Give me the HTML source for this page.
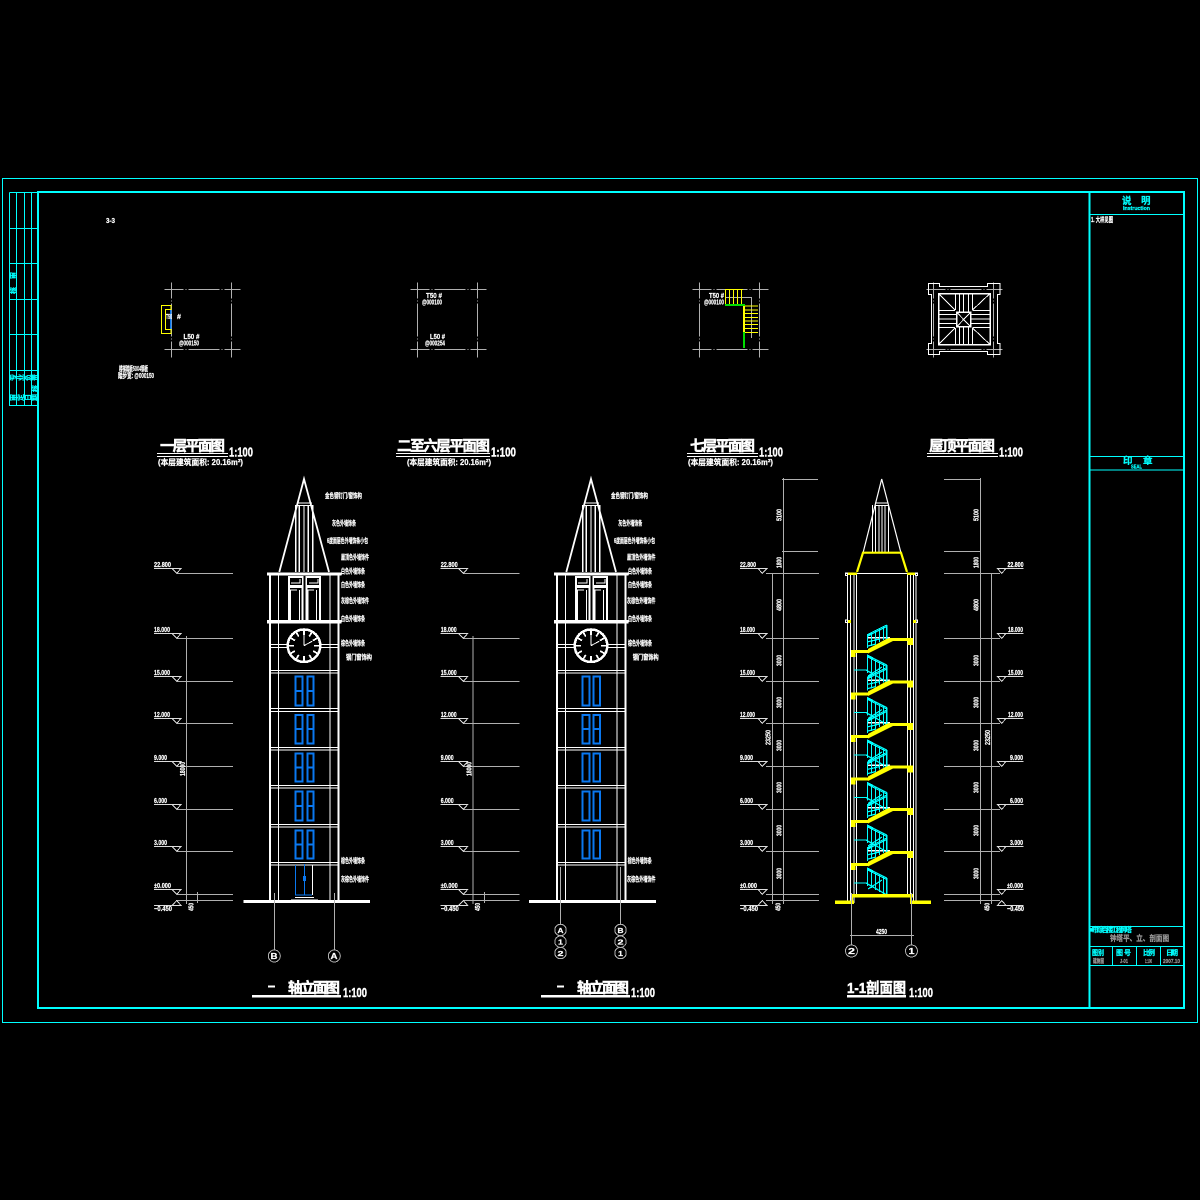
<!DOCTYPE html>
<html><head><meta charset="utf-8"><style>
html,body{margin:0;padding:0;background:#000}
svg{display:block}
svg *{shape-rendering:crispEdges}
text{font-family:"Liberation Sans","Noto Sans CJK SC",sans-serif;font-weight:bold;fill:#fff;stroke:#fff;stroke-width:.22px}
.n{font-size:7px}
.t{font-size:14.5px;stroke-width:.45px}
.r{font-size:12.5px;stroke-width:.4px}
.s{font-size:8px}
.c{fill:#0ff;stroke:#0ff}
.g{fill:#999;stroke:#999}
</style></head><body>
<svg xmlns="http://www.w3.org/2000/svg" width="1200" height="1200" viewBox="0 0 1200 1200">
<rect width="1200" height="1200" fill="#000"/>
<defs>
<g id="gh"><path d="M0 0H76" stroke="#b0b0b0" stroke-dasharray="19 2 1 2 31 2 1 2 16"/></g>
<g id="gv"><path d="M0 0V75" stroke="#b0b0b0" stroke-dasharray="16 2 1 2 33 2 1 2 21"/></g>
<g id="plan"><use href="#gh" x="-7" y="0"/><use href="#gh" x="-7" y="60"/><use href="#gv" x="0" y="-7"/><use href="#gv" x="60" y="-7"/></g>
<g id="tower" fill="none" stroke="#fff">
<path d="M279.3 572 304 479 329 572" stroke-width="1.8" style="shape-rendering:auto"/>
<path d="M297 503H312M297 505.5H312M295.7 505V572M299.3 505V572M304 505V572M308.3 505V572M312.7 505V572" stroke-width="1.2"/>
<rect x="267" y="572.5" width="74.5" height="3" fill="#fff" stroke="none"/>
<rect x="267" y="620" width="74.5" height="3.7" fill="#fff" stroke="none"/>
<path d="M270 575V901M338.3 575V901" stroke-width="2"/>
<path d="M278.3 575V901M330 575V901" stroke-width="1.1"/>
<path d="M270 644.5H288M270 647.5H288M320 644.5H338M320 647.5H338M270 670.5H338M270 673H338M270 708.7H338M270 711.5H338M270 747.3H338M270 750H338M270 785.3H338M270 788H338M270 824.5H338M270 827H338M270 862.3H338M270 865H338"/>
<rect x="289" y="577" width="13.7" height="8.7" stroke-width="1.6"/><rect x="306.3" y="577" width="13.7" height="8.7" stroke-width="1.6"/>
<path d="M291 583H300V579M309 583H318V579"/>
<path d="M289 620V587H302.7V620M306.3 620V587H320V620" stroke-width="2"/>
<path d="M290.5 620V590H297M299.5 620V590M308 620V590H314M316.5 620V590" stroke-width="1"/>
<circle cx="304" cy="645.7" r="16.7" fill="#000" stroke-width="1.6"/>
<circle cx="304" cy="645.7" r="15.5" stroke-width="1"/>
<path d="M304 630V635M304 656V661M288.5 645.7H294M314 645.7H319.5M296.2 632.2 298.7 636.5M311.8 632.2 309.3 636.5M296.2 659.2 298.7 654.9M311.8 659.2 309.3 654.9M290.5 637.9 295 640.5M317.5 637.9 313 640.5M290.5 653.5 295 650.9M317.5 653.5 313 650.9" stroke-width="1.7"/>
<path d="M304 645.7V630.5M304 645.7 312.5 641"/>
</g>
<g id="lvl">
<g stroke="#b0b0b0" fill="none">
<path d="M176.7 573.5H233M176.7 638.5H233M176.7 681.5H233M176.7 723.5H233M176.7 766.5H233M176.7 809.5H233M176.7 851.5H233M176.7 894.5H233M176.7 900.5H233"/>
<path d="M186.3 636V904M197.6 892V903"/>
</g>
<g stroke="#ddd" fill="none">
<path d="M154 568.5H181L176.7 573.3 172 568.5M154 633.5H181L176.7 638.3 172 633.5M154 676.5H181L176.7 681.3 172 676.5M154 718.5H181L176.7 723.3 172 718.5M154 761.5H181L176.7 766.3 172 761.5M154 804.5H181L176.7 809.3 172 804.5M154 846.5H181L176.7 851.3 172 846.5M154 889.5H181L176.7 894.3 172 889.5M154 905.5H181L176.7 900.5 172 905.5"/>
</g>
<g class="n">
<text x="154" y="567" class="n" textLength="17" lengthAdjust="spacingAndGlyphs">22.800</text>
<text x="154" y="632" class="n" textLength="16" lengthAdjust="spacingAndGlyphs">18.000</text>
<text x="154" y="675" class="n" textLength="16" lengthAdjust="spacingAndGlyphs">15.000</text>
<text x="154" y="717" class="n" textLength="16" lengthAdjust="spacingAndGlyphs">12.000</text>
<text x="154" y="760" class="n" textLength="13" lengthAdjust="spacingAndGlyphs">9.000</text>
<text x="154" y="803" class="n" textLength="13" lengthAdjust="spacingAndGlyphs">6.000</text>
<text x="154" y="845" class="n" textLength="13" lengthAdjust="spacingAndGlyphs">3.000</text>
<text x="154" y="888" class="n" textLength="17" lengthAdjust="spacingAndGlyphs">±0.000</text>
<text x="154" y="911" class="n" textLength="18" lengthAdjust="spacingAndGlyphs">−0.450</text>
<text transform="translate(185,776) rotate(-90)" class="n" textLength="14" lengthAdjust="spacingAndGlyphs">18000</text>
<text transform="translate(193.5,911) rotate(-90)" class="n" textLength="8" lengthAdjust="spacingAndGlyphs">450</text>
</g>
</g>
<g id="fl">
<path d="M867 -1.5H890" stroke="#fff" stroke-width="1.5"/>
<rect x="889" y="-1" width="24" height="3" fill="#ff0"/>
<rect x="907.5" y="-1" width="5.5" height="7" fill="#ff0"/>
<path d="M868 14.5V10L888 -1 893 2Z" fill="#ff0" style="shape-rendering:auto"/>
<rect x="851" y="11" width="17" height="3" fill="#ff0"/>
<rect x="851" y="11" width="4.5" height="7" fill="#ff0"/>
<g stroke="#0ff" fill="none" stroke-width="1.2" style="shape-rendering:auto">
<path d="M867 -4 886.7 -14M867 -2.5 886.7 -12.5M867.5 -4V9M871.5 -6V7M875.5 -8V5M879.5 -10V3M883.5 -12V1M886.7 -14V0"/>
<path d="M867 16 886.7 26M867 17.5 886.7 27.5M867.5 16V34M871.5 18V36M875.5 20V38M879.5 22V40M883.5 24V42M886.7 26V43M854 31H866L887 43"/>
<path d="M867 3 880 0M868 7 876 5M868 37 882 28"/>
</g>
</g>
</defs>

<!-- frames -->
<g fill="none" stroke="#0ff">
<rect x="2.5" y="178.5" width="1195" height="844"/>
<rect x="38" y="192" width="1146" height="816" stroke-width="2.2"/>
<path d="M9.5 192.5H38M9.5 192.5V405.5H38M16.5 192.5V405.5M24.5 192.5V405.5M31.5 192.5V405.5M9.5 228.5H38M9.5 263.5H38M9.5 299.5H38M9.5 334.5H38M9.5 370.5H38"/>
<path d="M1089.5 192V1008" stroke-width="1.6"/>
<path d="M1089 214.5H1184M1089 456.5H1184M1089 470H1184M1089 926.5H1184M1089 946.5H1184M1089 965.5H1184M1112.5 946.5V965.5M1136.5 946.5V965.5M1160.5 946.5V965.5"/>
</g>
<g class="c">
<text class="n c" transform="translate(15.5,279) rotate(-90)" textLength="7" lengthAdjust="spacingAndGlyphs">审</text>
<text class="n c" transform="translate(15.5,294) rotate(-90)" textLength="7" lengthAdjust="spacingAndGlyphs">核</text>
<text class="n c" transform="translate(15.5,381) rotate(-90)">专</text><text class="n c" transform="translate(23,381) rotate(-90)">业</text><text class="n c" transform="translate(30.5,381) rotate(-90)">负</text><text class="n c" transform="translate(37.5,381) rotate(-90)">责</text>
<text class="n c" transform="translate(37.5,392) rotate(-90)">核</text>
<text class="n c" transform="translate(15.5,401) rotate(-90)">审</text><text class="n c" transform="translate(23,401) rotate(-90)">定</text><text class="n c" transform="translate(30.5,401) rotate(-90)">日</text><text class="n c" transform="translate(37.5,401) rotate(-90)">期</text>
</g>
<text x="1122" y="204" style="font-size:9.5px" class="c">说</text><text x="1141" y="204" style="font-size:9.5px" class="c">明</text>
<text x="1123" y="210" style="font-size:5px" class="c" textLength="27" lengthAdjust="spacingAndGlyphs">Instruction</text>
<text x="1091" y="222" class="n" textLength="22" lengthAdjust="spacingAndGlyphs">1. 大样见图</text>
<text x="1123" y="464" style="font-size:9.5px" class="c">印</text><text x="1143" y="464" style="font-size:9.5px" class="c">章</text>
<text x="1131" y="468.5" style="font-size:5px" class="c" textLength="11" lengthAdjust="spacingAndGlyphs">SEAL</text>
<text x="1090" y="932" class="n c" textLength="42" lengthAdjust="spacing">■ 市综合楼工程 钟塔</text>
<text x="1110" y="941" class="s g" textLength="59" lengthAdjust="spacingAndGlyphs">钟塔平、立、剖面图</text>
<text x="1092" y="955" class="n c" textLength="12" lengthAdjust="spacingAndGlyphs">图别</text><text x="1093" y="963" style="font-size:5.5px" class="g" textLength="11" lengthAdjust="spacingAndGlyphs">建施图</text>
<text x="1116" y="955" class="n c" textLength="15" lengthAdjust="spacing">图号</text><text x="1120" y="963" style="font-size:5.5px" class="g" textLength="8" lengthAdjust="spacingAndGlyphs">J-01</text>
<text x="1143" y="955" class="n c" textLength="12" lengthAdjust="spacing">比例</text><text x="1145" y="963" style="font-size:5.5px" class="g" textLength="7" lengthAdjust="spacingAndGlyphs">1:100</text>
<text x="1166" y="955" class="n c" textLength="12" lengthAdjust="spacing">日期</text><text x="1163" y="963" style="font-size:5.5px" class="g" textLength="17" lengthAdjust="spacingAndGlyphs">2007.10</text>
<text x="106" y="223" class="n" textLength="9" lengthAdjust="spacingAndGlyphs">3-3</text>

<!-- plans -->
<use href="#plan" x="171.3" y="289.5"/>
<use href="#plan" x="417.3" y="289.5"/>
<use href="#plan" x="699.3" y="289.5"/>
<use href="#plan" x="933.3" y="289.5"/>
<rect x="161.5" y="305.5" width="9.5" height="28" fill="none" stroke="#ff0"/>
<rect x="165.5" y="309.5" width="5.5" height="20" fill="none" stroke="#ff0"/>
<path d="M170.5 310V329" stroke="#0a78f0" stroke-width="1.5"/>
<g class="n">
<text x="166" y="319" class="n" textLength="6" lengthAdjust="spacingAndGlyphs">T50</text><text x="177" y="319" class="n">#</text>
<text x="183.5" y="339" class="n" textLength="16" lengthAdjust="spacingAndGlyphs">L50 #</text>
<text x="179" y="345.5" class="n" textLength="20" lengthAdjust="spacingAndGlyphs">@000150</text>
<text x="119" y="371" class="n" textLength="29" lengthAdjust="spacingAndGlyphs">楼梯踏板50X4钢板</text>
<text x="118" y="378" class="n" textLength="36" lengthAdjust="spacingAndGlyphs">踏步宽: @000150</text>
<text x="426" y="298" class="n" textLength="16" lengthAdjust="spacingAndGlyphs">T50 #</text>
<text x="422" y="304.5" class="n" textLength="20" lengthAdjust="spacingAndGlyphs">@000100</text>
<text x="430" y="339" class="n" textLength="15" lengthAdjust="spacingAndGlyphs">L50 #</text>
<text x="425" y="345.5" class="n" textLength="20" lengthAdjust="spacingAndGlyphs">@000254</text>
<text x="709" y="298" class="n" textLength="15" lengthAdjust="spacingAndGlyphs">T50 #</text>
<text x="704" y="304.5" class="n" textLength="20" lengthAdjust="spacingAndGlyphs">@000100</text>
</g>
<g fill="none">
<path d="M725 297.5H751.5V338" stroke="#b0b0b0"/>
<path d="M725.5 289.5V304M729.5 289.5V304M733.5 289.5V304M737.5 289.5V304M741.5 289.5V304M725 289.5H743" stroke="#ff0"/>
<path d="M744 306H758M744 310H758M744 313.7H758M744 317.3H758M744 321H758M744 324.7H758M744 328.3H758M744 332.3H758" stroke="#ff0"/>
<path d="M725 304.8H745M744 304V348" stroke="#0d0" stroke-width="2"/>
<path d="M744 306V332" stroke="#ff0" stroke-width="2"/>
</g>
<g fill="none" stroke="#fff">
<path d="M928.5 283.5H939.5V286.5H987.5V283.5H1000V294.5H997.5V343.5H1000V354.5H987.5V351.5H939.5V354.5H928.5V343.5H931.5V294.5H928.5Z" stroke-width="1.2"/>
<rect x="938.5" y="293.5" width="51.5" height="51" stroke-width="1.5"/>
<rect x="956.7" y="312.3" width="14" height="14.4" stroke-width="1.2"/>
<path d="M956.7 312.3 970.7 326.7M970.7 312.3 956.7 326.7"/>
<path d="M938.5 293.5 955 310M990 293.5 972.5 310M938.5 344.5 955 328M990 344.5 972.5 328"/>
<path d="M955.5 293.5V310M959.5 293.5V312M963.5 293.5V312M968.5 293.5V312M972.5 293.5V310M955.5 328V344.5M959.5 327V344.5M963.5 327V344.5M968.5 327V344.5M972.5 328V344.5"/>
<path d="M938.5 310.7H955M938.5 314.7H956.7M938.5 319H956.7M938.5 323.3H956.7M938.5 327.3H955M972.5 310.7H990M970.7 314.7H990M970.7 319H990M970.7 323.3H990M972.5 327.3H990"/>
</g>

<!-- plan titles -->
<g>
<text x="160" y="451" class="t" textLength="65" lengthAdjust="spacing">一层平面图</text>
<text x="229" y="456.5" class="r" textLength="24" lengthAdjust="spacingAndGlyphs">1:100</text>
<text x="158" y="465" class="s" textLength="85" lengthAdjust="spacingAndGlyphs">(本层建筑面积: 20.16m²)</text>
<text x="397" y="451" class="t" textLength="93" lengthAdjust="spacing">二至六层平面图</text>
<text x="491" y="456.5" class="r" textLength="25" lengthAdjust="spacingAndGlyphs">1:100</text>
<text x="407" y="465" class="s" textLength="84" lengthAdjust="spacingAndGlyphs">(本层建筑面积: 20.16m²)</text>
<text x="690" y="451" class="t" textLength="65" lengthAdjust="spacing">七层平面图</text>
<text x="759" y="456.5" class="r" textLength="24" lengthAdjust="spacingAndGlyphs">1:100</text>
<text x="688" y="465" class="s" textLength="85" lengthAdjust="spacingAndGlyphs">(本层建筑面积: 20.16m²)</text>
<text x="929" y="451" class="t" textLength="66" lengthAdjust="spacing">屋顶平面图</text>
<text x="999" y="456.5" class="r" textLength="24" lengthAdjust="spacingAndGlyphs">1:100</text>
<g fill="#fff">
<rect x="157" y="453" width="71" height="1"/><rect x="157" y="456" width="71" height="1"/>
<rect x="396" y="453" width="94" height="1"/><rect x="396" y="456" width="94" height="1"/>
<rect x="687" y="453" width="71" height="1"/><rect x="687" y="456" width="71" height="1"/>
<rect x="927" y="453" width="71" height="1"/><rect x="927" y="456" width="71" height="1"/>
</g>
</g>

<!-- elevation 1 -->
<use href="#lvl"/>
<use href="#tower"/>
<rect x="243.3" y="900" width="126.7" height="3" fill="#fff"/>
<g fill="none" stroke="#0a78f0" stroke-width="2">
<path d="M295.3 676.3H302.7V705.7H295.3ZM295.3 691H302.7M307.3 676.3H313.7V705.7H307.3ZM307.3 691H313.7"/>
<path d="M295.3 715H302.7V743.7H295.3ZM295.3 729H302.7M307.3 715H313.7V743.7H307.3ZM307.3 729H313.7"/>
<path d="M295.3 753.3H302.7V781.7H295.3ZM295.3 767.5H302.7M307.3 753.3H313.7V781.7H307.3ZM307.3 767.5H313.7"/>
<path d="M295.3 791.3H302.7V820.7H295.3ZM295.3 806H302.7M307.3 791.3H313.7V820.7H307.3ZM307.3 806H313.7"/>
<path d="M295.3 830.3H302.7V858.7H295.3ZM295.3 844.5H302.7M307.3 830.3H313.7V858.7H307.3ZM307.3 844.5H313.7"/>
</g>
<path d="M295.5 865V895H312" stroke="#0a78f0" fill="none"/>
<path d="M304.5 864V895" stroke="#0a78f0" fill="none"/>
<rect x="303" y="876" width="3" height="5" fill="#0a78f0"/>
<path d="M312.5 865V895" stroke="#fff"/>
<path d="M295 897.5H314M291 900H318" stroke="#fff" stroke-width="1.3" fill="none"/>
<g fill="none" stroke="#b0b0b0">
<path d="M274.3 893V950M334.3 893V950"/>
<circle cx="274.3" cy="956" r="6"/><circle cx="334.3" cy="956" r="6"/>
</g>
<text x="270.5" y="959" class="s" textLength="7" lengthAdjust="spacingAndGlyphs">B</text>
<text x="330.5" y="959" class="s" textLength="7" lengthAdjust="spacingAndGlyphs">A</text>
<rect x="252" y="995" width="89" height="2.6" fill="#fff"/>
<rect x="268" y="985.5" width="7" height="2" fill="#fff"/>
<text x="288" y="993" class="t" textLength="52" lengthAdjust="spacing">轴立面图</text>
<text x="343" y="997" class="r" textLength="24" lengthAdjust="spacingAndGlyphs">1:100</text>
<g class="n">
<text x="325" y="498" class="n" textLength="37" lengthAdjust="spacingAndGlyphs">金色钢钉门/窗饰构</text>
<text x="332" y="525.5" class="n" textLength="24" lengthAdjust="spacingAndGlyphs">灰色外墙饰条</text>
<text x="327" y="543" class="n" textLength="41" lengthAdjust="spacingAndGlyphs">6度面层色外墙饰条小包</text>
<text x="341" y="559.5" class="n" textLength="28" lengthAdjust="spacingAndGlyphs">屋顶色外墙饰件</text>
<text x="341" y="573.5" class="n" textLength="24" lengthAdjust="spacingAndGlyphs">白色外墙饰条</text>
<text x="341" y="587" class="n" textLength="24" lengthAdjust="spacingAndGlyphs">白色外墙饰条</text>
<text x="341" y="603" class="n" textLength="28" lengthAdjust="spacingAndGlyphs">灰棕色外墙饰件</text>
<text x="341" y="621" class="n" textLength="24" lengthAdjust="spacingAndGlyphs">白色外墙饰条</text>
<text x="341" y="645.5" class="n" textLength="24" lengthAdjust="spacingAndGlyphs">棕色外墙饰条</text>
<text x="346" y="659.5" class="n" textLength="26" lengthAdjust="spacingAndGlyphs">钢门窗饰构</text>
<text x="341" y="863" class="n" textLength="24" lengthAdjust="spacingAndGlyphs">棕色外墙饰条</text>
<text x="341" y="881.5" class="n" textLength="28" lengthAdjust="spacingAndGlyphs">灰棕色外墙饰件</text>
</g>

<!-- elevation 2 -->
<use href="#lvl" x="286.7"/>
<use href="#tower" x="287"/>
<rect x="529" y="900" width="127" height="3" fill="#fff"/>
<g fill="none" stroke="#0a78f0" stroke-width="2">
<path d="M582.3 676.3H589.3V705.7H582.3ZM593.3 676.3H600V705.7H593.3Z"/>
<path d="M582.3 715H589.3V743.7H582.3ZM582.3 729H589.3M593.3 715H600V743.7H593.3ZM593.3 729H600"/>
<path d="M582.3 753.3H589.3V781.7H582.3ZM593.3 753.3H600V781.7H593.3Z"/>
<path d="M582.3 791.3H589.3V820.7H582.3ZM593.3 791.3H600V820.7H593.3Z"/>
<path d="M582.3 830.3H589.3V858.7H582.3ZM593.3 830.3H600V858.7H593.3Z"/>
</g>
<g fill="none" stroke="#b0b0b0">
<path d="M560.3 867V924M620.3 867V924"/>
<circle cx="560.5" cy="930" r="5.7"/><circle cx="560.5" cy="941.7" r="5.7"/><circle cx="560.5" cy="953" r="5.7"/>
<circle cx="620.5" cy="930" r="5.7"/><circle cx="620.5" cy="941.7" r="5.7"/><circle cx="620.5" cy="953" r="5.7"/>
</g>
<text x="557.5" y="933" class="n" textLength="6" lengthAdjust="spacingAndGlyphs">A</text>
<text x="558" y="944.7" class="n" textLength="5" lengthAdjust="spacingAndGlyphs">1</text>
<text x="557.5" y="956" class="n" textLength="6" lengthAdjust="spacingAndGlyphs">2</text>
<text x="617.5" y="933" class="n" textLength="6" lengthAdjust="spacingAndGlyphs">B</text>
<text x="617.5" y="944.7" class="n" textLength="6" lengthAdjust="spacingAndGlyphs">2</text>
<text x="618" y="956" class="n" textLength="5" lengthAdjust="spacingAndGlyphs">1</text>
<rect x="541" y="995" width="89" height="2.6" fill="#fff"/>
<rect x="557" y="985.5" width="7" height="2" fill="#fff"/>
<text x="577" y="993" class="t" textLength="52" lengthAdjust="spacing">轴立面图</text>
<text x="631" y="997" class="r" textLength="24" lengthAdjust="spacingAndGlyphs">1:100</text>
<g class="n">
<text x="611" y="498" class="n" textLength="37" lengthAdjust="spacingAndGlyphs">金色钢钉门/窗饰构</text>
<text x="618.3" y="525.5" class="n" textLength="24" lengthAdjust="spacingAndGlyphs">灰色外墙饰条</text>
<text x="614" y="543" class="n" textLength="41" lengthAdjust="spacingAndGlyphs">6度面层色外墙饰条小包</text>
<text x="627" y="559.5" class="n" textLength="28.5" lengthAdjust="spacingAndGlyphs">屋顶色外墙饰件</text>
<text x="628" y="573.5" class="n" textLength="24" lengthAdjust="spacingAndGlyphs">白色外墙饰条</text>
<text x="628" y="587" class="n" textLength="24" lengthAdjust="spacingAndGlyphs">白色外墙饰条</text>
<text x="627" y="603" class="n" textLength="28.5" lengthAdjust="spacingAndGlyphs">灰棕色外墙饰件</text>
<text x="628" y="621" class="n" textLength="24" lengthAdjust="spacingAndGlyphs">白色外墙饰条</text>
<text x="628" y="645.5" class="n" textLength="24" lengthAdjust="spacingAndGlyphs">棕色外墙饰条</text>
<text x="632.7" y="659.5" class="n" textLength="26" lengthAdjust="spacingAndGlyphs">钢门窗饰构</text>
<text x="627.7" y="863" class="n" textLength="24" lengthAdjust="spacingAndGlyphs">棕色外墙饰条</text>
<text x="627" y="881.5" class="n" textLength="28.5" lengthAdjust="spacingAndGlyphs">灰棕色外墙饰件</text>
</g>

<!-- section -->
<g fill="none" stroke="#fff">
<path d="M863 553 881.7 479 901 553" stroke-width="1.2" style="shape-rendering:auto"/>
<path d="M875 503H888.5M875 505.5H888.5"/>
<path d="M872.5 505V552M875.5 505V552M879 505V552M882 505V552M885 505V552M888.5 505V552" stroke-width="1.2"/>
<path d="M845 573.5H917.7"/>
<path d="M847.5 575V903M850.5 575V903M854 575V903M856.5 575V895M907.5 575V895M910.5 575V903M913.5 575V903M916 575V903"/>
<rect x="845.5" y="573" width="2" height="2.5"/><rect x="915.5" y="573" width="2" height="2.5"/>
<rect x="845.5" y="620" width="2" height="2.5"/><rect x="915.5" y="620" width="2" height="2.5"/>
</g>
<path d="M857 572 863 552.7H901L907 572" fill="none" stroke="#ff0" stroke-width="2.2" style="shape-rendering:auto"/>
<rect x="848" y="572.5" width="9" height="2.5" fill="#ff0"/><rect x="907" y="572.5" width="8" height="2.5" fill="#ff0"/>
<rect x="848" y="620" width="3" height="3" fill="#ff0"/><rect x="913" y="620" width="3" height="3" fill="#ff0"/>
<use href="#fl" y="639"/><use href="#fl" y="681.5"/><use href="#fl" y="724"/><use href="#fl" y="766.5"/><use href="#fl" y="809"/><use href="#fl" y="852"/>
<rect x="851.5" y="894" width="61.5" height="3.5" fill="#ff0"/>
<rect x="835" y="900.5" width="19" height="3.5" fill="#ff0"/>
<rect x="910" y="900.5" width="21" height="3.5" fill="#ff0"/>
<rect x="851" y="894" width="2" height="10" fill="#ff0"/><rect x="910" y="894" width="2" height="10" fill="#ff0"/>
<g fill="none" stroke="#b0b0b0">
<path d="M766 573.5H819M766 638.5H819M766 681.5H819M766 723.5H819M766 766.5H819M766 809.5H819M766 851.5H819M766 894.5H819M766 900.5H819"/>
<path d="M782 479.5H818M782 551.5H818M772.5 573V904M783.5 478V904"/>
<path d="M944 479.5H981M944 551.5H981M944 573.5H1000M944 638.5H1000M944 681.5H1000M944 723.5H1000M944 766.5H1000M944 809.5H1000M944 851.5H1000M944 894.5H1000M944 900.5H1000"/>
<path d="M980.5 478V904M991.5 573V904"/>
<path d="M851.5 893V945M911.5 893V945M850 935.5H914"/>
<circle cx="851.5" cy="951" r="6"/><circle cx="911.5" cy="951" r="6"/>
</g>
<g fill="none" stroke="#ddd">
<path d="M740 568.5H767L762.3 573.3 758 568.5M740 633.5H767L762.3 638.3 758 633.5M740 676.5H767L762.3 681.3 758 676.5M740 718.5H767L762.3 723.3 758 718.5M740 761.5H767L762.3 766.3 758 761.5M740 804.5H767L762.3 809.3 758 804.5M740 846.5H767L762.3 851.3 758 846.5M740 889.5H767L762.3 894.3 758 889.5M740 905.5H767L762.3 900.5 758 905.5"/>
<path d="M1023.3 568.5H997.5L1001.7 573.3 1006 568.5M1023.3 633.5H997.5L1001.7 638.3 1006 633.5M1023.3 676.5H997.5L1001.7 681.3 1006 676.5M1023.3 718.5H997.5L1001.7 723.3 1006 718.5M1023.3 761.5H997.5L1001.7 766.3 1006 761.5M1023.3 804.5H997.5L1001.7 809.3 1006 804.5M1023.3 846.5H997.5L1001.7 851.3 1006 846.5M1023.3 889.5H997.5L1001.7 894.3 1006 889.5M1023.3 905.5H997.5L1001.7 900.5 1006 905.5"/>
</g>
<g class="n">
<text x="740" y="567" class="n" textLength="16" lengthAdjust="spacingAndGlyphs">22.800</text>
<text x="740" y="632" class="n" textLength="15" lengthAdjust="spacingAndGlyphs">18.000</text>
<text x="740" y="675" class="n" textLength="15" lengthAdjust="spacingAndGlyphs">15.000</text>
<text x="740" y="717" class="n" textLength="15" lengthAdjust="spacingAndGlyphs">12.000</text>
<text x="740" y="760" class="n" textLength="13" lengthAdjust="spacingAndGlyphs">9.000</text>
<text x="740" y="803" class="n" textLength="13" lengthAdjust="spacingAndGlyphs">6.000</text>
<text x="740" y="845" class="n" textLength="13" lengthAdjust="spacingAndGlyphs">3.000</text>
<text x="740" y="888" class="n" textLength="17" lengthAdjust="spacingAndGlyphs">±0.000</text>
<text x="740" y="911" class="n" textLength="18" lengthAdjust="spacingAndGlyphs">−0.450</text>
<text x="1007.5" y="567" class="n" textLength="16" lengthAdjust="spacingAndGlyphs">22.800</text>
<text x="1008" y="632" class="n" textLength="15" lengthAdjust="spacingAndGlyphs">18.000</text>
<text x="1008" y="675" class="n" textLength="15" lengthAdjust="spacingAndGlyphs">15.000</text>
<text x="1008" y="717" class="n" textLength="15" lengthAdjust="spacingAndGlyphs">12.000</text>
<text x="1010" y="760" class="n" textLength="13" lengthAdjust="spacingAndGlyphs">9.000</text>
<text x="1010" y="803" class="n" textLength="13" lengthAdjust="spacingAndGlyphs">6.000</text>
<text x="1010" y="845" class="n" textLength="13" lengthAdjust="spacingAndGlyphs">3.000</text>
<text x="1007" y="888" class="n" textLength="16" lengthAdjust="spacingAndGlyphs">±0.000</text>
<text x="1007" y="911" class="n" textLength="17" lengthAdjust="spacingAndGlyphs">−0.450</text>
<text transform="translate(781.5,521) rotate(-90)" class="n" textLength="12" lengthAdjust="spacingAndGlyphs">5100</text>
<text transform="translate(781.5,568) rotate(-90)" class="n" textLength="11" lengthAdjust="spacingAndGlyphs">1800</text>
<text transform="translate(781.5,611) rotate(-90)" class="n" textLength="12" lengthAdjust="spacingAndGlyphs">4800</text>
<text transform="translate(781.5,666) rotate(-90)" class="n" textLength="11" lengthAdjust="spacingAndGlyphs">3000</text>
<text transform="translate(781.5,708) rotate(-90)" class="n" textLength="11" lengthAdjust="spacingAndGlyphs">3000</text>
<text transform="translate(781.5,751) rotate(-90)" class="n" textLength="11" lengthAdjust="spacingAndGlyphs">3000</text>
<text transform="translate(781.5,793) rotate(-90)" class="n" textLength="11" lengthAdjust="spacingAndGlyphs">3000</text>
<text transform="translate(781.5,836) rotate(-90)" class="n" textLength="11" lengthAdjust="spacingAndGlyphs">3000</text>
<text transform="translate(781.5,879) rotate(-90)" class="n" textLength="11" lengthAdjust="spacingAndGlyphs">3000</text>
<text transform="translate(770.5,745) rotate(-90)" class="n" textLength="15" lengthAdjust="spacingAndGlyphs">23250</text>
<text transform="translate(978.5,521) rotate(-90)" class="n" textLength="12" lengthAdjust="spacingAndGlyphs">5100</text>
<text transform="translate(978.5,568) rotate(-90)" class="n" textLength="11" lengthAdjust="spacingAndGlyphs">1800</text>
<text transform="translate(978.5,611) rotate(-90)" class="n" textLength="12" lengthAdjust="spacingAndGlyphs">4800</text>
<text transform="translate(978.5,666) rotate(-90)" class="n" textLength="11" lengthAdjust="spacingAndGlyphs">3000</text>
<text transform="translate(978.5,708) rotate(-90)" class="n" textLength="11" lengthAdjust="spacingAndGlyphs">3000</text>
<text transform="translate(978.5,751) rotate(-90)" class="n" textLength="11" lengthAdjust="spacingAndGlyphs">3000</text>
<text transform="translate(978.5,793) rotate(-90)" class="n" textLength="11" lengthAdjust="spacingAndGlyphs">3000</text>
<text transform="translate(978.5,836) rotate(-90)" class="n" textLength="11" lengthAdjust="spacingAndGlyphs">3000</text>
<text transform="translate(978.5,879) rotate(-90)" class="n" textLength="11" lengthAdjust="spacingAndGlyphs">3000</text>
<text transform="translate(990,745) rotate(-90)" class="n" textLength="15" lengthAdjust="spacingAndGlyphs">23250</text>
<text transform="translate(780.5,911) rotate(-90)" class="n" textLength="8" lengthAdjust="spacingAndGlyphs">450</text>
<text transform="translate(989.5,911) rotate(-90)" class="n" textLength="8" lengthAdjust="spacingAndGlyphs">450</text>
<text x="876" y="934" class="n" textLength="11" lengthAdjust="spacingAndGlyphs">4250</text>
<text x="848" y="954" class="s" textLength="7" lengthAdjust="spacingAndGlyphs">2</text>
<text x="908.5" y="954" class="s" textLength="6" lengthAdjust="spacingAndGlyphs">1</text>
</g>
<rect x="847" y="995" width="59" height="2.6" fill="#fff"/>
<text x="847" y="993" class="t" textLength="59" lengthAdjust="spacingAndGlyphs">1-1剖面图</text>
<text x="909" y="997" class="r" textLength="24" lengthAdjust="spacingAndGlyphs">1:100</text>
</svg>
</body></html>
